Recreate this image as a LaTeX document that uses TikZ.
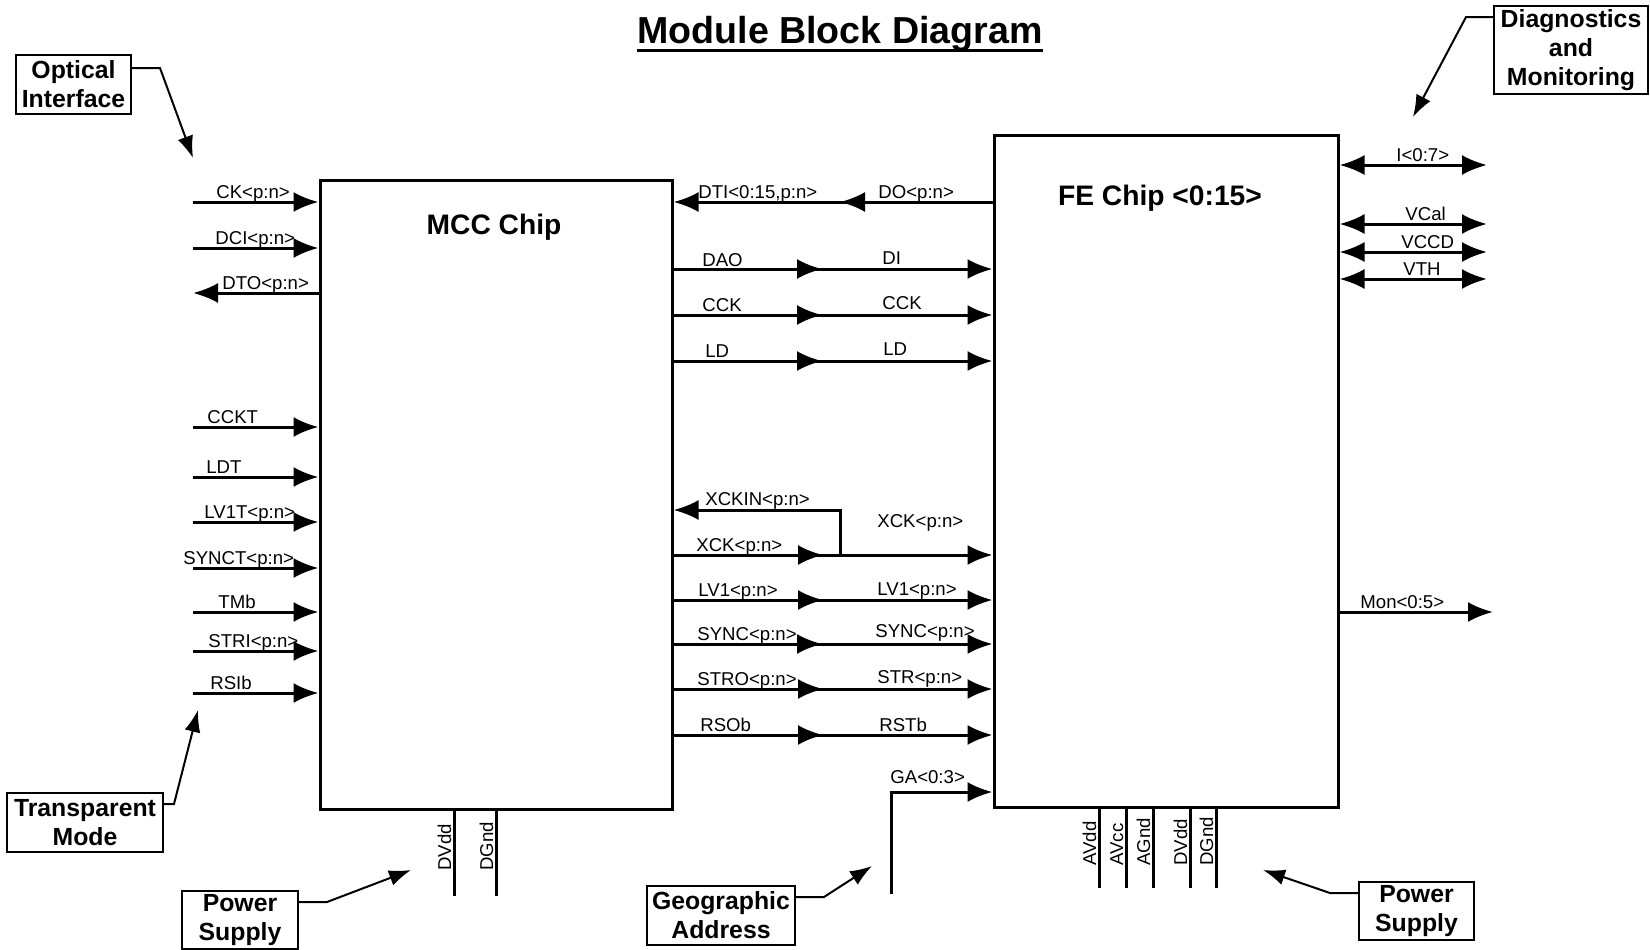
\documentclass[tikz,border=0pt]{standalone}
\usepackage{fontspec}
\setmainfont{Liberation Sans}
\usetikzlibrary{arrows.meta}

\begin{document}
\begin{tikzpicture}[
x=0.5pt, y=-0.5pt,
chip/.style={draw, line width=1.5pt, inner sep=0pt},
chiptxt/.style={inner sep=0pt, font=\fontsize{14.1}{17}\selectfont\bfseries},
note/.style={
draw,
line width=1pt,
align=center,
inner sep=0pt,
font=\fontsize{12.4}{14.5}\selectfont\bfseries
},
sigtxt/.style={anchor=base west, inner sep=0pt, font=\fontsize{9.3}{11}\selectfont},
pintxt/.style={sigtxt, rotate=90},
sig/.style={line width=1.5pt, -{Latex[length=12.5pt,width=10pt]}},
bisig/.style={line width=1.5pt, {Latex[length=12.5pt,width=10pt]}-{Latex[length=12.5pt,width=10pt]}},
wire/.style={line width=1.5pt},
hint/.style={line width=1pt, -{Latex[length=11pt,width=8pt]}}
]

\useasboundingbox (0,0) rectangle (1650,949);

\node[anchor=base, inner sep=0pt, font=\fontsize{18.8}{22}\selectfont\bfseries] (T) at (840,43)
{Module Block Diagram};
\draw[line width=1.3pt] ([yshift=-3.6pt]T.base west) -- ([yshift=-3.6pt]T.base east);

% the two chips
\node[chip, minimum width=176pt, minimum height=314.5pt] (MCC) at (496,494.5) {};
\node[chiptxt] (MCCt) at (494,227) {MCC Chip};

\node[chip, minimum width=172pt, minimum height=336pt] (FE) at (1166,471) {};
\node[chiptxt] (FEt) at (1160,198) {FE Chip <0:15>};

% optical and transparent inputs
\coordinate (CK) at (193,202);
\coordinate (DCI) at (193,248);
\coordinate (DTO) at (193,293);
\coordinate (CCKT) at (193,427);
\coordinate (LDT) at (193,477);
\coordinate (LVT) at (193,522);
\coordinate (SYT) at (193,568);
\coordinate (TMb) at (193,612);
\coordinate (STRI) at (193,651);
\coordinate (RSIb) at (193,693);

\draw[sig] (CK) -- (CK -| MCC.west);
\draw[sig] (DCI) -- (DCI -| MCC.west);
\draw[sig] (DTO -| MCC.west) -- (DTO);
\draw[sig] (CCKT) -- (CCKT -| MCC.west);
\draw[sig] (LDT) -- (LDT -| MCC.west);
\draw[sig] (LVT) -- (LVT -| MCC.west);
\draw[sig] (SYT) -- (SYT -| MCC.west);
\draw[sig] (TMb) -- (TMb -| MCC.west);
\draw[sig] (STRI) -- (STRI -| MCC.west);
\draw[sig] (RSIb) -- (RSIb -| MCC.west);

\node[sigtxt] (CKt) at (216,198) {CK<p:n>};
\node[sigtxt] (DCIt) at (215,244) {DCI<p:n>};
\node[sigtxt] (DTOt) at (222,289) {DTO<p:n>};
\node[sigtxt] (CCKTt) at (207,423) {CCKT};
\node[sigtxt] (LDTt) at (206,473) {LDT};
\node[sigtxt] (LVTt) at (204,518) {LV1T<p:n>};
\node[sigtxt] (SYTt) at (183,564) {SYNCT<p:n>};
\node[sigtxt] (TMbt) at (218,608) {TMb};
\node[sigtxt] (STRIt) at (208,647) {STRI<p:n>};
\node[sigtxt] (RSIbt) at (210,689) {RSIb};

% MCC <-> FE
\coordinate (DOm) at (840,202);
\coordinate (DAOm) at (822,269);
\coordinate (CCKm) at (822,315);
\coordinate (LDm) at (822,361);
\coordinate (XCKm) at (823,555);
\coordinate (XCKb) at (840,555);
\coordinate (XCKIN) at (840,510);
\coordinate (LVm) at (823,600);
\coordinate (SYm) at (822,644);
\coordinate (STRm) at (823,689);
\coordinate (RSm) at (823,735);

\draw[sig] (DOm -| FE.west) -- (DOm);
\draw[sig] (DOm -| FE.west) -- (DOm -| MCC.east);
\draw[sig] (DAOm -| MCC.east) -- (DAOm);
\draw[sig] (DAOm -| MCC.east) -- (DAOm -| FE.west);
\draw[sig] (CCKm -| MCC.east) -- (CCKm);
\draw[sig] (CCKm -| MCC.east) -- (CCKm -| FE.west);
\draw[sig] (LDm -| MCC.east) -- (LDm);
\draw[sig] (LDm -| MCC.east) -- (LDm -| FE.west);
\draw[sig] (XCKm -| MCC.east) -- (XCKm);
\draw[sig] (XCKm -| MCC.east) -- (XCKm -| FE.west);
\draw[sig] (XCKb) -- (XCKIN) -- (XCKIN -| MCC.east);
\draw[sig] (LVm -| MCC.east) -- (LVm);
\draw[sig] (LVm -| MCC.east) -- (LVm -| FE.west);
\draw[sig] (SYm -| MCC.east) -- (SYm);
\draw[sig] (SYm -| MCC.east) -- (SYm -| FE.west);
\draw[sig] (STRm -| MCC.east) -- (STRm);
\draw[sig] (STRm -| MCC.east) -- (STRm -| FE.west);
\draw[sig] (RSm -| MCC.east) -- (RSm);
\draw[sig] (RSm -| MCC.east) -- (RSm -| FE.west);

\node[sigtxt] (DTIt) at (698,198) {DTI<0:15,p:n>};
\node[sigtxt] (DOt) at (878,198) {DO<p:n>};
\node[sigtxt] (DAOt) at (702,266) {DAO};
\node[sigtxt] (DIt) at (882,264) {DI};
\node[sigtxt] (CCKat) at (702,311) {CCK};
\node[sigtxt] (CCKbt) at (882,309) {CCK};
\node[sigtxt] (LDat) at (705,357) {LD};
\node[sigtxt] (LDbt) at (883,355) {LD};
\node[sigtxt] (XCKINt) at (705,505) {XCKIN<p:n>};
\node[sigtxt] (XCKat) at (696,551) {XCK<p:n>};
\node[sigtxt] (XCKbt) at (877,527) {XCK<p:n>};
\node[sigtxt] (LVat) at (698,596) {LV1<p:n>};
\node[sigtxt] (LVbt) at (877,595) {LV1<p:n>};
\node[sigtxt] (SYat) at (697,640) {SYNC<p:n>};
\node[sigtxt] (SYbt) at (875,637) {SYNC<p:n>};
\node[sigtxt] (STRat) at (697,685) {STRO<p:n>};
\node[sigtxt] (STRbt) at (877,683) {STR<p:n>};
\node[sigtxt] (RSat) at (700,731) {RSOb};
\node[sigtxt] (RSbt) at (879,731) {RSTb};

% geographic address
\coordinate (GA) at (891,894);
\coordinate (GAc) at (891,792);
\draw[sig] (GA) -- (GAc) -- (GAc -| FE.west);
\node[sigtxt] (GAt) at (890,783) {GA<0:3>};

% diagnostics and monitoring
\coordinate (I) at (1487,165);
\coordinate (VCal) at (1487,224);
\coordinate (VCCD) at (1487,252);
\coordinate (VTH) at (1487,279);
\coordinate (Mon) at (1493,612);

\draw[bisig] (I -| FE.east) -- (I);
\draw[bisig] (VCal -| FE.east) -- (VCal);
\draw[bisig] (VCCD -| FE.east) -- (VCCD);
\draw[bisig] (VTH -| FE.east) -- (VTH);
\draw[sig] (Mon -| FE.east) -- (Mon);

\node[sigtxt] (It) at (1396,161) {I<0:7>};
\node[sigtxt] (VCalt) at (1405,220) {VCal};
\node[sigtxt] (VCCDt) at (1401,248) {VCCD};
\node[sigtxt] (VTHt) at (1403,275) {VTH};
\node[sigtxt] (Mont) at (1360,608) {Mon<0:5>};

% power pins
\coordinate (DVdd) at (454,896);
\coordinate (DGnd) at (496,896);
\coordinate (AVdd) at (1099,888);
\coordinate (AVcc) at (1126,888);
\coordinate (AGnd) at (1153,888);
\coordinate (DVddF) at (1190,888);
\coordinate (DGndF) at (1216,888);

\draw[wire] (DVdd |- MCC.south) -- (DVdd);
\draw[wire] (DGnd |- MCC.south) -- (DGnd);
\draw[wire] (AVdd |- FE.south) -- (AVdd);
\draw[wire] (AVcc |- FE.south) -- (AVcc);
\draw[wire] (AGnd |- FE.south) -- (AGnd);
\draw[wire] (DVddF |- FE.south) -- (DVddF);
\draw[wire] (DGndF |- FE.south) -- (DGndF);

\node[pintxt] (DVddt) at (451,871) {DVdd};
\node[pintxt] (DGndt) at (493,871) {DGnd};
\node[pintxt] (AVddt) at (1096,866) {AVdd};
\node[pintxt] (AVcct) at (1123,866) {AVcc};
\node[pintxt] (AGndt) at (1150,866) {AGnd};
\node[pintxt] (DVddFt) at (1187,866) {DVdd};
\node[pintxt] (DGndFt) at (1213,866) {DGnd};

% callouts
\node[note, minimum width=57.5pt, minimum height=29.5pt] (OPT) at (73.5,84.5)
{Optical\\Interface};
\node[note, minimum width=77pt, minimum height=44pt] (DIAG) at (1571,50)
{Diagnostics\\and\\Monitoring};
\node[note, minimum width=78pt, minimum height=29.5pt] (TM) at (85,822.5)
{Transparent\\Mode};
\node[note, minimum width=58pt, minimum height=29pt] (PSL) at (240,920)
{Power\\Supply};
\node[note, minimum width=74pt, minimum height=29.5pt] (GEO) at (721,915.5)
{Geographic\\Address};
\node[note, minimum width=57.5pt, minimum height=29pt] (PSR) at (1416.5,911)
{Power\\Supply};

\coordinate (OPTb) at (160,68);
\coordinate (OPTa) at (193,158);
\coordinate (DIAGb) at (1466,17);
\coordinate (DIAGa) at (1413,117);
\coordinate (TMb2) at (174,804);
\coordinate (TMa) at (198,710);
\coordinate (PSLb) at (327,902);
\coordinate (PSLa) at (411,870);
\coordinate (GEOb) at (824,897);
\coordinate (GEOa) at (872,866);
\coordinate (PSRb) at (1330,893);
\coordinate (PSRa) at (1263,870);

\draw[hint] (OPT.east |- OPTb) -- (OPTb) -- (OPTa);
\draw[hint] (DIAG.west |- DIAGb) -- (DIAGb) -- (DIAGa);
\draw[hint] (TM.east |- TMb2) -- (TMb2) -- (TMa);
\draw[hint] (PSL.east |- PSLb) -- (PSLb) -- (PSLa);
\draw[hint] (GEO.east |- GEOb) -- (GEOb) -- (GEOa);
\draw[hint] (PSR.west |- PSRb) -- (PSRb) -- (PSRa);

\end{tikzpicture}
\end{document}
